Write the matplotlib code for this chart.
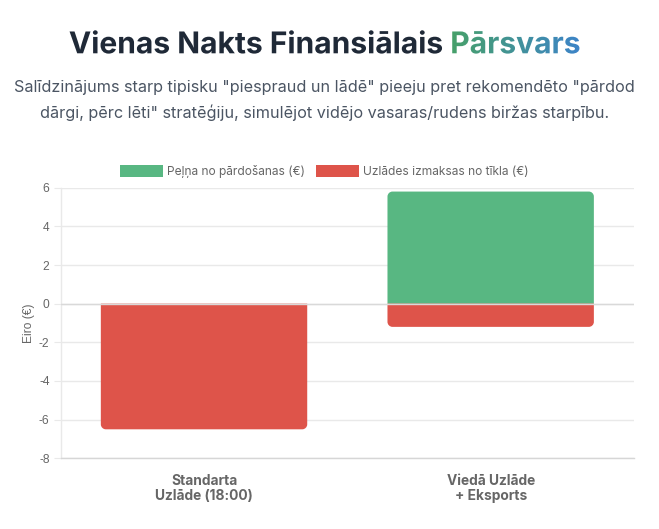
import numpy as np
import matplotlib
matplotlib.use("Agg")
import matplotlib.pyplot as plt
from matplotlib.path import Path
from matplotlib.patches import PathPatch, Patch
from matplotlib.textpath import TextPath
from matplotlib.font_manager import FontProperties
from matplotlib.transforms import Affine2D
from matplotlib.colors import LinearSegmentedColormap

# ---------------- data ----------------
categories = ["Standarta\nUzlāde (18:00)", "Viedā Uzlāde\n+ Eksports"]
profit = [0.0, 5.8]        # Peļņa no pārdošanas (€)
cost = [-6.5, -1.2]        # Uzlādes izmaksas no tīkla (€)
series_labels = ["Peļņa no pārdošanas (€)", "Uzlādes izmaksas no tīkla (€)"]
y_ticks = [6, 4, 2, 0, -2, -4, -6, -8]
title_main = "Vienas Nakts Finansiālais"
title_accent = "Pārsvars"
subtitle = ('Salīdzinājums starp tipisku "piespraud un lādē" pieeju pret rekomendēto "pārdod\n'
            'dārgi, pērc lēti" stratēģiju, simulējot vidējo vasaras/rudens biržas starpību.')
y_label = "Eiro (€)"

# ---------------- style ----------------
W, H = 659, 529
DPI = 100
GREEN = "#58b782"
RED = "#de544a"
TICK = "#666666"
GRID = "#e9e9e9"
CX = 324.5  # horizontal centre of header content

fig = plt.figure(figsize=(W / DPI, H / DPI), dpi=DPI)
fig.patch.set_facecolor("white")

def px(v):
    return v * 72.0 / DPI

# axes box in pixels
L, R, T, B = 60.7, 634, 187.7, 458.3
ax = fig.add_axes([L / W, 1 - B / H, (R - L) / W, (B - T) / H])
ax.set_ylim(-8, 6)
ax.set_xlim(-0.5, 1.5)
x = np.arange(len(categories))
bw = 0.72

for s in ["top", "right"]:
    ax.spines[s].set_visible(False)
ax.spines["left"].set_color(GRID)
ax.spines["bottom"].set_color("#d6d6d6")
ax.spines["left"].set_linewidth(1)
ax.spines["bottom"].set_linewidth(1)
ax.set_yticks(y_ticks)
ax.set_yticklabels([str(t) for t in y_ticks], fontsize=px(12), color=TICK,
                   fontfamily="Liberation Sans")
ax.tick_params(axis="y", length=5, color=GRID, pad=3)
ax.tick_params(axis="x", length=0, pad=11)
ax.set_xticks(x)
ax.set_xticklabels(categories, fontsize=px(13.8), color=TICK, fontweight="bold",
                   fontfamily="Inter", linespacing=1.15)
ax.grid(axis="y", color=GRID, linewidth=1, zorder=0)
ax.set_axisbelow(True)
ax.set_ylabel(y_label, fontsize=px(12), color=TICK, fontfamily="Liberation Sans",
              labelpad=3)

# rounded bars
def rounded(ax, rect, color, end):
    rect.set_visible(False)
    x0, y0 = rect.get_x(), rect.get_y()
    w, h = rect.get_width(), rect.get_height()
    if h == 0:
        return
    y1 = y0 + h
    lo, hi = min(y0, y1), max(y0, y1)
    pxx = (R - L) / 2.0
    pxy = (B - T) / 14.0
    r = 5.0
    rx, ry = r / pxx, r / pxy
    k = 0.5523
    if end == "top":
        verts = [(x0, lo), (x0 + w, lo), (x0 + w, hi - ry),
                 (x0 + w, hi - ry + k * ry), (x0 + w - rx + k * rx, hi), (x0 + w - rx, hi),
                 (x0 + rx, hi),
                 (x0 + rx - k * rx, hi), (x0, hi - ry + k * ry), (x0, hi - ry),
                 (x0, lo)]
    else:
        verts = [(x0, hi), (x0 + w, hi), (x0 + w, lo + ry),
                 (x0 + w, lo + ry - k * ry), (x0 + w - rx + k * rx, lo), (x0 + w - rx, lo),
                 (x0 + rx, lo),
                 (x0 + rx - k * rx, lo), (x0, lo + ry - k * ry), (x0, lo + ry),
                 (x0, hi)]
    codes = [Path.MOVETO, Path.LINETO, Path.LINETO,
             Path.CURVE4, Path.CURVE4, Path.CURVE4,
             Path.LINETO,
             Path.CURVE4, Path.CURVE4, Path.CURVE4,
             Path.CLOSEPOLY]
    ax.add_patch(PathPatch(Path(verts, codes), facecolor=color, edgecolor="none", zorder=2))

b1 = ax.bar(x, profit, bw, color=GREEN, label=series_labels[0], zorder=2)
b2 = ax.bar(x, cost, bw, color=RED, label=series_labels[1], zorder=2)
for rect in b1:
    rounded(ax, rect, GREEN, "top")
for rect in b2:
    rounded(ax, rect, RED, "bottom")
ax.axhline(0, color="#d9d9d9", linewidth=1, zorder=3)

# legend
handles = [Patch(facecolor=GREEN, edgecolor="none"), Patch(facecolor=RED, edgecolor="none")]
leg = fig.legend(handles, series_labels, loc="center", bbox_to_anchor=(CX / W, 1 - 171.5 / H),
                 ncol=2, frameon=False, handlelength=3.6, handleheight=1.1,
                 handletextpad=0.35, columnspacing=0.9, prop={"family": "Inter", "size": px(12)})
for t in leg.get_texts():
    t.set_color(TICK)

# overlay for title / subtitle
ov = fig.add_axes([0, 0, 1, 1], zorder=10)
ov.axis("off")
ov.patch.set_alpha(0)

fp = FontProperties(family="Inter", weight="bold")
size = 30
full = TextPath((0, 0), title_main + " " + title_accent, size=size, prop=fp)
p1 = TextPath((0, 0), title_main, size=size, prop=fp)
p2 = TextPath((0, 0), title_accent, size=size, prop=fp)
fe = full.get_extents()
e2 = p2.get_extents()
off2 = fe.x1 - e2.x1
x_start = CX - (fe.x0 + fe.x1) / 2
baseline = H - 53.3
tr1 = Affine2D().translate(x_start, baseline) + ov.transData
ov.add_patch(PathPatch(p1, facecolor="#1f2937", edgecolor="none", transform=tr1))
tr2 = Affine2D().translate(x_start + off2, baseline) + ov.transData
patch2 = PathPatch(p2, facecolor="none", edgecolor="none", transform=tr2)
ov.add_patch(patch2)
gx0 = x_start + off2 + e2.x0
gx1 = x_start + off2 + e2.x1
cmap = LinearSegmentedColormap.from_list("g", ["#47a06a", "#3d84c8"])
grad = np.linspace(0, 1, 256).reshape(1, -1)
im = ov.imshow(grad, cmap=cmap, extent=[gx0, gx1, baseline + e2.y0 - 2, baseline + e2.y1 + 2],
               aspect="auto", interpolation="bilinear")
im.set_clip_path(patch2)
ov.set_xlim(0, W)
ov.set_ylim(0, H)

ov.text(CX, H - 100.5, subtitle, ha="center", va="center", fontsize=px(16.2),
        color="#4b5563", fontfamily="Inter", linespacing=1.62)

fig.savefig("out.png", dpi=DPI, facecolor="white")
